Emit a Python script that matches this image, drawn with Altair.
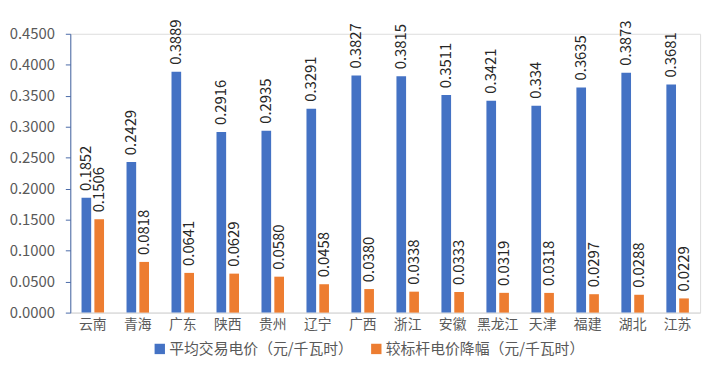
import altair as alt
import pandas as pd

provinces = ["云南", "青海", "广东", "陕西", "贵州", "辽宁", "广西", "浙江", "安徽",
             "黑龙江", "天津", "福建", "湖北", "江苏"]
avg_price = [0.1852, 0.2429, 0.3889, 0.2916, 0.2935, 0.3291, 0.3827, 0.3815, 0.3511,
             0.3421, 0.334, 0.3635, 0.3873, 0.3681]
avg_label = ["0.1852", "0.2429", "0.3889", "0.2916", "0.2935", "0.3291", "0.3827", "0.3815",
             "0.3511", "0.3421", "0.334", "0.3635", "0.3873", "0.3681"]
drop = [0.1506, 0.0818, 0.0641, 0.0629, 0.0580, 0.0458, 0.0380, 0.0338, 0.0333,
        0.0319, 0.0318, 0.0297, 0.0288, 0.0229]
drop_label = ["0.1506", "0.0818", "0.0641", "0.0629", "0.0580", "0.0458", "0.0380", "0.0338",
              "0.0333", "0.0319", "0.0318", "0.0297", "0.0288", "0.0229"]
series = ["平均交易电价（元/千瓦时）", "较标杆电价降幅（元/千瓦时）"]
colors = ["#4472C4", "#ED7D31"]
y_ticks = [0, 0.05, 0.1, 0.15, 0.2, 0.25, 0.3, 0.35, 0.4, 0.45]

rows = []
for i, p in enumerate(provinces):
    rows.append({"省份": p, "系列": series[0], "值": avg_price[i], "标签": avg_label[i]})
    rows.append({"省份": p, "系列": series[1], "值": drop[i], "标签": drop_label[i]})
df = pd.DataFrame(rows)

FONT = "Noto Sans CJK SC"
TXT = "#595959"

x = alt.X("省份:N", sort=provinces, title=None,
          scale=alt.Scale(paddingInner=0.5, paddingOuter=0.25),
          axis=alt.Axis(labelAngle=0, labelFontSize=14, labelColor=TXT, labelFont=FONT,
                        domainColor="#D9D9D9", ticks=False, labelPadding=5,
                        labelOverlap=False))
y_axis = alt.Axis(values=y_ticks, format=".4f", labelFontSize=15, labelColor=TXT,
                  labelFont=FONT, grid=False, domainColor="#4A6AA8",
                  tickColor="#4A6AA8", tickSize=5, labelPadding=11,
                  labelOverlap=False, labelFlush=False, labelBound=False)
y = alt.Y("值:Q", title=None, scale=alt.Scale(domain=[0, 0.45], nice=False), axis=y_axis)
xoff = alt.XOffset("系列:N", sort=series, scale=alt.Scale(paddingInner=0.25))
color = alt.Color("系列:N", sort=series, scale=alt.Scale(domain=series, range=colors),
                  legend=alt.Legend(title=None, orient="none", legendX=83, legendY=311,
                                    direction="horizontal", symbolType="square",
                                    symbolSize=110, symbolStrokeWidth=0, labelFontSize=15,
                                    labelColor=TXT, labelFont=FONT, columnPadding=16,
                                    labelOffset=2, labelLimit=0))

bars = alt.Chart(df).mark_bar().encode(x=x, y=y, xOffset=xoff, color=color)
labels = alt.Chart(df).mark_text(angle=270, align="left", baseline="middle", dx=7,
                                 fontSize=15, font=FONT, color="#262626").encode(
    x=x, y=y, xOffset=xoff, text="标签:N")

top_line = alt.Chart(df).mark_rule(color="#D9D9D9", strokeWidth=1).encode(
    x=alt.value(-63), x2=alt.value(645), y=alt.value(-30))

chart = alt.layer(top_line, bars, labels).properties(
    width=637, height=282,
    autosize=alt.AutoSizeParams(type="none"),
    padding={"left": 63, "top": 32 - 8, "right": 10, "bottom": 59},
).configure_view(stroke=None).configure(background="white")

chart.save("out.html", embed_options={"renderer": "svg", "actions": False})
